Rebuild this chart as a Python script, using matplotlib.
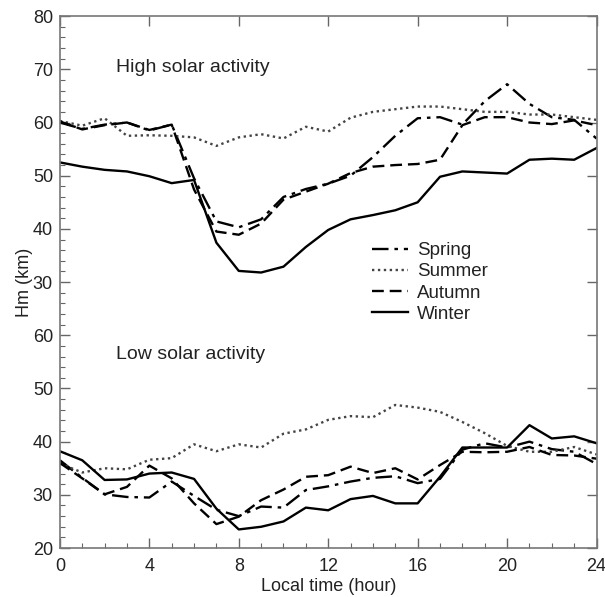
import matplotlib
matplotlib.use("Agg")
import matplotlib.pyplot as plt
import numpy as np

plt.rcParams['font.family'] = ['Liberation Sans', 'DejaVu Sans']

hours = list(range(25))

# high solar activity (km)
hi_spring = [60.0, 58.8, 59.6, 60.0, 58.5, 59.6, 49.5, 41.4, 40.3, 41.8, 46.0, 47.5,
             48.5, 50.0, 53.5, 57.5, 60.8, 61.0, 59.6, 64.0, 67.2, 63.5, 61.0, 60.5, 57.0]
hi_summer = [60.3, 59.4, 60.8, 57.5, 57.6, 57.5, 57.2, 55.6, 57.2, 57.8, 57.0, 59.2,
             58.3, 60.9, 62.0, 62.5, 63.0, 63.0, 62.5, 62.0, 62.0, 61.5, 61.5, 61.0, 60.5]
hi_autumn = [60.2, 58.7, 59.5, 60.0, 58.6, 59.6, 47.4, 39.5, 38.9, 41.0, 45.5, 47.0,
             48.5, 50.5, 51.7, 52.0, 52.2, 53.0, 59.5, 61.0, 61.0, 60.0, 59.7, 60.4, 59.5]
hi_winter = [52.5, 51.7, 51.1, 50.8, 49.9, 48.6, 49.2, 37.4, 32.1, 31.8, 32.9, 36.6,
             39.8, 41.8, 42.6, 43.5, 45.0, 49.8, 50.8, 50.6, 50.4, 53.0, 53.2, 53.0, 55.2]

# low solar activity (km)
lo_spring = [36.5, 33.2, 30.1, 29.6, 29.5, 32.5, 29.8, 27.2, 26.0, 27.8, 27.6, 30.9,
             31.6, 32.5, 33.2, 33.5, 32.2, 33.0, 38.5, 39.7, 38.9, 40.0, 38.6, 38.1, 35.8]
lo_summer = [35.9, 34.2, 35.0, 34.8, 36.6, 36.9, 39.5, 38.2, 39.5, 38.9, 41.5, 42.3,
             44.1, 44.8, 44.6, 46.9, 46.4, 45.6, 43.7, 41.6, 39.2, 38.1, 38.1, 39.0, 37.6]
lo_autumn = [36.0, 33.1, 30.1, 31.5, 35.5, 33.1, 28.4, 24.5, 25.9, 29.0, 31.0, 33.4,
             33.7, 35.3, 34.1, 35.0, 32.9, 35.6, 38.1, 38.0, 38.1, 39.0, 37.5, 37.4, 36.8]
lo_winter = [38.2, 36.5, 32.8, 32.9, 34.0, 34.2, 33.0, 27.4, 23.5, 24.0, 25.0, 27.6,
             27.1, 29.2, 29.8, 28.4, 28.4, 33.4, 38.9, 38.9, 38.9, 43.1, 40.6, 41.0, 39.7]

seasons = ['Spring', 'Summer', 'Autumn', 'Winter']
styles = {
    'Spring': dict(linestyle=(0, (7, 2.5, 1.5, 2.5))),
    'Summer': dict(linestyle=(0, (1, 1.5)), color='#444444'),
    'Autumn': dict(linestyle=(0, (5, 2.5))),
    'Winter': dict(linestyle='-'),
}
offset = 40  # top block is drawn shifted up by 40 km on a shared axis

fig = plt.figure(figsize=(6.05, 5.97), dpi=100)
ax = fig.add_axes([0.099, 0.082, 0.887, 0.891])

hi = [hi_spring, hi_summer, hi_autumn, hi_winter]
lo = [lo_spring, lo_summer, lo_autumn, lo_winter]
for name, h, l in zip(seasons, hi, lo):
    kw = dict(color='black', lw=1.7)
    kw.update(styles[name])
    ax.plot(hours, np.array(h) + offset, label=name, **kw)
    ax.plot(hours, l, **kw)

ax.set_xlim(0, 24)
ax.set_ylim(20, 120)
ax.set_xticks(range(0, 25, 4))
ax.set_xticks(range(0, 25), minor=True)
yt = [20, 30, 40, 50, 60, 70, 80, 90, 100, 110, 120]
ax.set_yticks(yt)
ax.set_yticklabels([str(v) if v <= 60 else str(v - offset) for v in yt])
ax.set_yticks(np.arange(20, 121, 2), minor=True)

ax.tick_params(which='both', direction='in', labelsize=13, colors='#666666',
               labelcolor='#222222')
ax.tick_params(which='major', length=7, top=True, right=True, width=1)
ax.tick_params(which='minor', length=3.5, top=False, right=False, width=0.8)
ax.tick_params(axis='x', which='major', pad=7)
ax.tick_params(axis='y', which='major', pad=5)
for s in ax.spines.values():
    s.set_color('#777777')
    s.set_linewidth(1.2)

ax.set_xlabel('Local time (hour)', fontsize=13, color='#222222', labelpad=2)
ax.set_ylabel('Hm (km)', fontsize=13, color='#222222', labelpad=0)

ax.text(2.5, 70.3 + offset, 'High solar activity', fontsize=14, color='#222222',
        va='center')
ax.text(2.5, 56.3, 'Low solar activity', fontsize=14, color='#222222', va='center')

ax.legend(loc='upper left', bbox_to_anchor=(0.55, 0.607), frameon=False,
          fontsize=13.5, handlelength=1.9, handletextpad=0.5, labelspacing=0.22,
          labelcolor='#222222')

fig.savefig('out.png', dpi=100)
